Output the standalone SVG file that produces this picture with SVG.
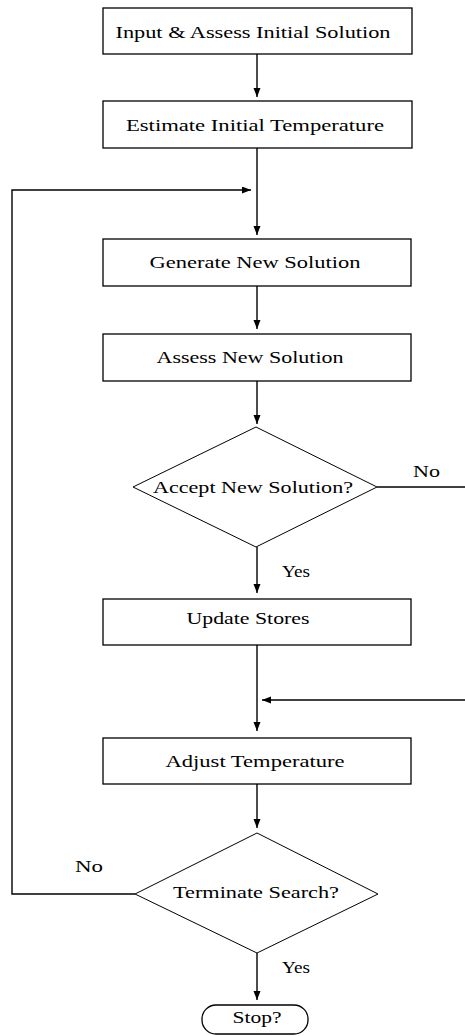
<svg xmlns="http://www.w3.org/2000/svg" width="465" height="1036" viewBox="0 0 465 1036">
<style>
.box{fill:#fff;stroke:#000;stroke-width:1.3}
.dia{fill:#fff;stroke:#000;stroke-width:1}
.t{font-family:"Liberation Serif","Times New Roman",serif;font-size:16px;fill:#000;text-anchor:middle}
.lbl{font-family:"Liberation Serif","Times New Roman",serif;font-size:16px;fill:#000}
.c{fill:none;stroke:#000;stroke-width:1.4}
</style>
<defs>
<marker id="ah" markerUnits="userSpaceOnUse" markerWidth="10" markerHeight="8" refX="9" refY="3.5" orient="auto">
<path d="M0,0 L9,3.5 L0,7 z" fill="#000"/>
</marker>
</defs>
<rect width="465" height="1036" fill="#fff"/>
<g id="connectors">
<path class="c" d="M257,54 V97" marker-end="url(#ah)"/>
<path class="c" d="M257,148 V235" marker-end="url(#ah)"/>
<path class="c" d="M135,894 H12 V190 H251" marker-end="url(#ah)"/>
<path class="c" d="M257,286 V329" marker-end="url(#ah)"/>
<path class="c" d="M257,381 V424" marker-end="url(#ah)"/>
<path class="c" d="M257,547 V593" marker-end="url(#ah)"/>
<path class="c" d="M377,487 H465"/>
<path class="c" d="M465,700 H262" marker-end="url(#ah)"/>
<path class="c" d="M257,645 V731" marker-end="url(#ah)"/>
<path class="c" d="M257,784 V828" marker-end="url(#ah)"/>
<path class="c" d="M257,953 V1000" marker-end="url(#ah)"/>
<text class="lbl" x="413" y="477" textLength="27" lengthAdjust="spacingAndGlyphs">No</text>
<text class="lbl" x="282" y="577" textLength="28" lengthAdjust="spacingAndGlyphs">Yes</text>
<text class="lbl" x="75" y="872" textLength="28" lengthAdjust="spacingAndGlyphs">No</text>
<text class="lbl" x="282" y="973" textLength="28" lengthAdjust="spacingAndGlyphs">Yes</text>
</g>
<g id="n1"><rect class="box" x="103" y="8" width="309" height="46"/><text class="t" x="253" y="38" textLength="275" lengthAdjust="spacingAndGlyphs">Input &amp; Assess Initial Solution</text></g>
<g id="n2"><rect class="box" x="103" y="101" width="309" height="47"/><text class="t" x="255" y="131" textLength="258" lengthAdjust="spacingAndGlyphs">Estimate Initial Temperature</text></g>
<g id="n3"><rect class="box" x="103" y="239" width="308" height="47"/><text class="t" x="255" y="268" textLength="211" lengthAdjust="spacingAndGlyphs">Generate New Solution</text></g>
<g id="n4"><rect class="box" x="103" y="334" width="308" height="47"/><text class="t" x="250" y="363" textLength="187" lengthAdjust="spacingAndGlyphs">Assess New Solution</text></g>
<g id="n5"><polygon class="dia" points="256,427 377,487 256,547 133,487"/><text class="t" x="253" y="493" textLength="200" lengthAdjust="spacingAndGlyphs">Accept New Solution?</text></g>
<g id="n6"><rect class="box" x="103" y="599" width="308" height="46"/><text class="t" x="248" y="624" textLength="123" lengthAdjust="spacingAndGlyphs">Update Stores</text></g>
<g id="n7"><rect class="box" x="103" y="738" width="308" height="46"/><text class="t" x="255" y="767" textLength="179" lengthAdjust="spacingAndGlyphs">Adjust Temperature</text></g>
<g id="n8"><polygon class="dia" points="257,833 378,894 257,953 135,894"/><text class="t" x="256" y="898" textLength="166" lengthAdjust="spacingAndGlyphs">Terminate Search?</text></g>
<g id="n9"><rect class="box" x="202" y="1005" width="106" height="29" rx="14" ry="14"/><text class="t" x="257" y="1023" textLength="49" lengthAdjust="spacingAndGlyphs">Stop?</text></g>
</svg>
